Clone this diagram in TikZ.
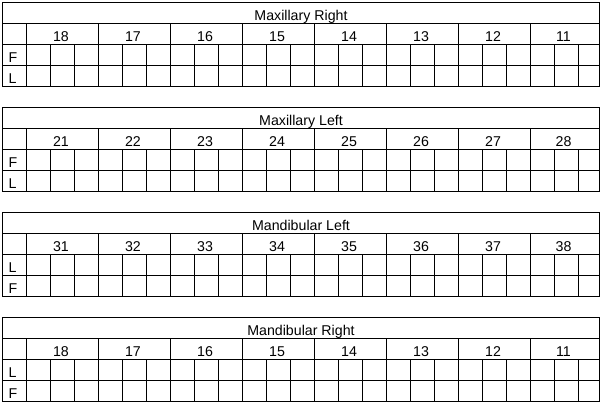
\documentclass[tikz,border=0pt]{standalone}
\usepackage{fontspec}
\setmainfont{Liberation Sans}
\begin{document}
\begin{tikzpicture}[x=1pt,y=-1pt,
  grid/.style={line width=1pt, draw=black},
  txt/.style={inner sep=0pt, anchor=base, font=\fontsize{14.2}{16}\selectfont},
  lbl/.style={inner sep=0pt, anchor=base west, font=\fontsize{14.2}{16}\selectfont}]
\useasboundingbox (0,0) rectangle (605,405);
\def\chart#1#2#3#4#5#6{%
  \draw[grid] (2,#1) rectangle (599,#1+84);
  \foreach \r in {21,42,63} \draw[grid] (2,#1+\r) -- (599,#1+\r);
  \draw[grid] (26,#1+21) -- (26,#1+84);
  \foreach \k in {1,...,7} \draw[grid] (26+72*\k,#1+21) -- (26+72*\k,#1+84);
  \foreach \k in {1,...,23} \draw[grid] (26+24*\k,#1+42) -- (26+24*\k,#1+84);
  \node[txt] (#6title) at (301,#1+18) {#2};
  \foreach \n [count=\i from 0] in {#3} {
    \pgfmathsetmacro\cx{ifthenelse(\i==7,563.5,26+72*\i+35)}
    \node[txt] (#6n\i) at (\cx,#1+39) {\n};
  }
  \node[lbl] (#6ra) at (8.5,#1+60) {#4};
  \node[lbl] (#6rb) at (8.5,#1+81) {#5};
}
\chart{2}{Maxillary Right}{18,17,16,15,14,13,12,11}{F}{L}{a}
\chart{107}{Maxillary Left}{21,22,23,24,25,26,27,28}{F}{L}{b}
\chart{212}{Mandibular Left}{31,32,33,34,35,36,37,38}{L}{F}{c}
\chart{317}{Mandibular Right}{18,17,16,15,14,13,12,11}{L}{F}{d}
\end{tikzpicture}
\end{document}
